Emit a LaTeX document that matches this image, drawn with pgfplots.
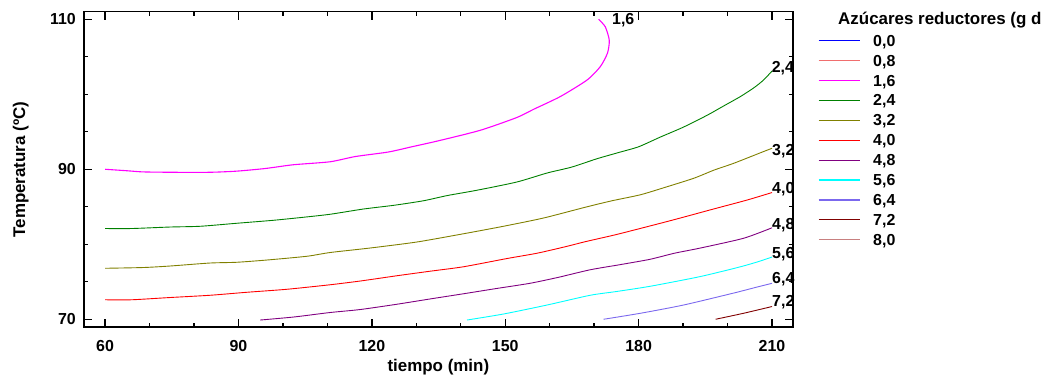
\documentclass[border=0pt]{standalone}
\usepackage{fontspec}
\setmainfont{Liberation Sans}
\usepackage{pgfplots}
\pgfplotsset{compat=1.18}
\definecolor{c00}{RGB}{0,0,255}
\definecolor{c08}{RGB}{240,110,110}
\definecolor{c16}{RGB}{255,0,255}
\definecolor{c24}{RGB}{0,128,0}
\definecolor{c32}{RGB}{128,128,0}
\definecolor{c40}{RGB}{255,0,0}
\definecolor{c48}{RGB}{128,0,128}
\definecolor{c56}{RGB}{0,255,255}
\definecolor{c64}{RGB}{123,104,238}
\definecolor{c72}{RGB}{128,0,0}
\definecolor{c80}{RGB}{200,128,128}
\newcommand{\lblfont}{\bfseries\fontsize{16}{16}\selectfont}
\begin{document}
\begin{tikzpicture}
\path[use as bounding box] (0bp,0bp) rectangle (1044bp,378bp);
\begin{axis}[
  at={(84bp,50.7bp)}, anchor=south west,
  scale only axis, width=708.7bp, height=315.6bp,
  xmin=55.27, xmax=214.65, ymin=68.93, ymax=111.01,
  xtick={60,90,...,210},
  minor xtick={70,80,100,110,130,140,160,170,190,200},
  ytick={70,90,110},
  minor ytick={75,80,85,95,100,105},
  tick align=inside,
  major tick length=8bp, minor tick length=4bp,
  every tick/.style={black, line width=1.4bp},
  axis line style={line width=1.6bp},
  /pgf/number format/assume math mode=true,
  ticklabel style={font=\lblfont, inner sep=0pt},
  yticklabel style={xshift=-8bp},
  xticklabel style={yshift=-13bp},
  xlabel={tiempo (min)},
  label style={font=\bfseries\fontsize{17}{17}\selectfont, inner sep=0pt},
  xlabel style={at={(axis description cs:0.5,0)}, anchor=base, yshift=-44.4bp},
  clip=false,
  legend style={at={(1.0357,0.9255)}, anchor=north west, draw=none, fill=none,
    inner sep=0pt, outer sep=0pt, font=\lblfont, row sep=8.9bp,
    nodes={inner sep=0pt, text height=11bp, text depth=0bp},
    /tikz/every odd column/.append style={column sep=13bp}},
  legend cell align=left,
  legend image code/.code={\draw[#1,line width=1.2bp] (0bp,0bp) -- (41bp,0bp);},
  every axis plot/.append style={line width=0.9bp, smooth, tension=0.4},
]
\addlegendimage{c00}\addlegendentry{0{,}0}
\addlegendimage{c08,line width=1.8bp}\addlegendentry{0{,}8}
\addlegendimage{c16}\addlegendentry{1{,}6}
\addlegendimage{c24,line width=1.6bp}\addlegendentry{2{,}4}
\addlegendimage{c32}\addlegendentry{3{,}2}
\addlegendimage{c40}\addlegendentry{4{,}0}
\addlegendimage{c48}\addlegendentry{4{,}8}
\addlegendimage{c56}\addlegendentry{5{,}6}
\addlegendimage{c64,line width=1.6bp}\addlegendentry{6{,}4}
\addlegendimage{c72}\addlegendentry{7{,}2}
\addlegendimage{c80,line width=1.8bp}\addlegendentry{8{,}0}

% 1,6
\addplot[c16, forget plot, line width=1.1bp] coordinates {
(60,90.0)(65,89.8)(68.5,89.65)(75,89.6)(83.6,89.6)(89.6,89.75)(96,90.1)(102.3,90.6)
(110.6,91.0)(116.3,91.7)(123.7,92.3)(129,93.0)(135,93.8)(144.4,95.2)(152.6,96.9)
(156.4,98.0)(162.4,99.7)(168.4,101.9)(171.4,103.7)(173.0,105.5)(173.4,107.2)
(172.5,109.0)(171.0,110.0)};
% 2,4
\addplot[c24, forget plot] coordinates {
(60,82.1)(66,82.1)(74.6,82.3)(81.4,82.4)(89.6,82.8)(97.9,83.2)(104.6,83.6)(110.6,84.0)
(118.1,84.7)(125,85.2)(131.6,85.8)(137,86.5)(143.6,87.2)(152.6,88.3)(159.4,89.5)
(165,90.3)(170.6,91.4)(175.9,92.3)(180,93.0)(184.9,94.3)(190,95.6)(195.4,97.2)
(199,98.4)(202.9,99.7)(206,100.9)(208.1,101.9)(210,103.1)};
% 3,2
\addplot[c32, forget plot] coordinates {
(60,76.8)(68.6,76.9)(74.6,77.1)(83.6,77.5)(89.6,77.6)(96.4,77.9)(105.4,78.4)(110.6,78.9)
(119.6,79.5)(130.1,80.3)(140.6,81.4)(149.6,82.4)(158.6,83.5)(168.4,85.0)(174,85.8)
(180.4,86.6)(186,87.6)(192.4,88.8)(197,89.9)(201.4,90.8)(207.4,92.2)(210,92.8)};
% 4,0
\addplot[c40, forget plot] coordinates {
(60,72.6)(66,72.6)(74.6,72.9)(83.6,73.2)(91.9,73.6)(100.9,74.0)(110.6,74.6)(117.4,75.1)
(125.6,75.8)(133,76.4)(140.6,77.0)(150.4,78.1)(157.1,78.8)(163,79.6)(168.4,80.4)
(175,81.3)(184.9,82.8)(190,83.6)(196.2,84.6)(204.4,85.9)(210,86.9)};
% 4,8
\addplot[c48, forget plot] coordinates {
(94.9,69.9)(102.4,70.3)(110.6,70.9)(117.4,71.3)(125.6,72.0)(133,72.7)(140.6,73.4)
(148,74.1)(155.6,74.8)(162,75.6)(169.1,76.6)(176,77.3)(182.6,78.0)(188,78.8)
(193.9,79.5)(203.6,80.8)(210,82.2)};
% 5,6
\addplot[c56, forget plot] coordinates {
(141.4,69.9)(149.6,70.7)(159.4,71.9)(169.1,73.2)(175,73.7)(182.6,74.4)(193.9,75.7)
(202.9,77.0)(207,77.7)(210,78.3)};
% 6,4
\addplot[c64, forget plot] coordinates {
(172.1,70.0)(180.4,70.8)(190.1,71.9)(201.4,73.5)(206,74.2)(210,74.8)};
% 7,2
\addplot[c72, forget plot] coordinates {
(197.3,70.0)(203.6,70.8)(210,71.7)};

\begin{scope}[every node/.style={font=\lblfont, inner sep=0pt, anchor=base west}]
\node at (axis cs:174.0,109.24) {1,6};
\node at (axis cs:209.9,102.88) {2,4};
\node at (axis cs:210,91.9) {3,2};
\node at (axis cs:210,86.8) {4,0};
\node at (axis cs:210,82.0) {4,8};
\node at (axis cs:210,78.04) {5,6};
\node at (axis cs:210,74.8) {6,4};
\node at (axis cs:210,71.7) {7,2};
\end{scope}
\end{axis}
\node[rotate=90, anchor=base, inner sep=0pt, font=\bfseries\fontsize{17}{17}\selectfont] at (25bp,208.5bp) {Temperatura (ºC)};
\node[anchor=base west, inner sep=0pt, font=\bfseries\fontsize{17}{17}\selectfont] at (838bp,353bp) {Azúcares reductores (g d};
\end{tikzpicture}
\end{document}
